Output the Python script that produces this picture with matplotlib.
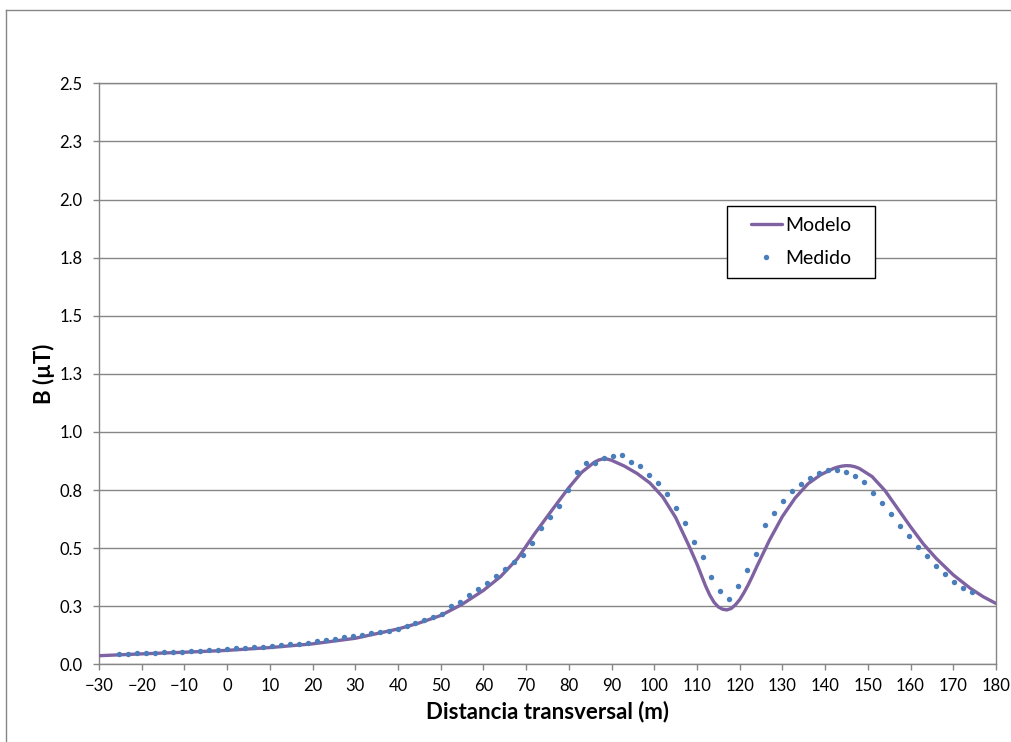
import numpy as np
import matplotlib
matplotlib.use("Agg")
from matplotlib import pyplot as plt
from matplotlib.lines import Line2D
from matplotlib.patches import Rectangle

# valores medidos (puntos)
x_medido = [-25.2, -23.1, -21.0, -18.9, -16.8, -14.7, -12.6, -10.5, -8.4, -6.3,
            -4.2, -2.1, 0.0, 2.1, 4.2, 6.3, 8.4, 10.5, 12.6, 14.7,
            16.8, 18.9, 21.0, 23.1, 25.2, 27.3, 29.4, 31.5, 33.6, 35.7,
            37.8, 39.9, 42.0, 44.1, 46.2, 48.3, 50.4, 52.5, 54.6, 56.7,
            58.8, 60.9, 63.0, 65.1, 67.2, 69.3, 71.4, 73.5, 75.6, 77.7,
            79.8, 81.9, 84.0, 86.1, 88.2, 90.3, 92.4, 94.5, 96.6, 98.7,
            100.8, 102.9, 105.0, 107.1, 109.2, 111.3, 113.4, 115.5, 117.6, 119.7,
            121.8, 123.9, 126.0, 128.1, 130.2, 132.3, 134.4, 136.5, 138.6, 140.7,
            142.8, 144.9, 147.0, 149.1, 151.2, 153.3, 155.4, 157.5, 159.6, 161.7,
            163.8, 165.9, 168.0, 170.1, 172.2, 174.3]
y_medido = [0.044, 0.046, 0.047, 0.049, 0.050, 0.052, 0.053, 0.054, 0.057, 0.059,
            0.060, 0.062, 0.066, 0.069, 0.072, 0.073, 0.076, 0.079, 0.083, 0.086,
            0.089, 0.093, 0.099, 0.103, 0.108, 0.116, 0.122, 0.128, 0.135, 0.139,
            0.145, 0.152, 0.165, 0.176, 0.189, 0.202, 0.215, 0.251, 0.269, 0.297,
            0.323, 0.349, 0.379, 0.410, 0.440, 0.470, 0.522, 0.588, 0.634, 0.680,
            0.751, 0.827, 0.865, 0.866, 0.886, 0.895, 0.902, 0.870, 0.853, 0.816,
            0.779, 0.734, 0.671, 0.607, 0.525, 0.463, 0.376, 0.314, 0.282, 0.336,
            0.406, 0.473, 0.601, 0.651, 0.704, 0.744, 0.776, 0.803, 0.823, 0.835,
            0.836, 0.826, 0.809, 0.783, 0.737, 0.694, 0.645, 0.597, 0.552, 0.503,
            0.465, 0.423, 0.387, 0.354, 0.330, 0.312]

# curva del modelo
x_modelo = [-30, -20, -10, 0, 10, 20, 30, 40, 45, 50,
            55, 60, 64, 68, 72, 76, 80, 83, 86, 87,
            88, 89, 90, 93, 96, 99, 102, 105, 108, 110,
            111, 112, 113, 114, 115, 116, 117, 118, 119, 120,
            121, 122, 123, 124, 127, 130, 133, 136, 139, 142,
            143, 144, 145, 146, 147, 148, 151, 154, 157, 160,
            163, 166, 170, 174, 177, 180]
y_modelo = [0.037, 0.045, 0.052, 0.060, 0.072, 0.088, 0.112, 0.152, 0.178, 0.210,
            0.258, 0.318, 0.377, 0.455, 0.562, 0.662, 0.760, 0.826, 0.870, 0.879,
            0.884, 0.883, 0.878, 0.853, 0.821, 0.780, 0.720, 0.632, 0.515, 0.432,
            0.385, 0.338, 0.298, 0.267, 0.247, 0.237, 0.234, 0.240, 0.256, 0.278,
            0.308, 0.342, 0.380, 0.420, 0.535, 0.636, 0.716, 0.777, 0.816, 0.843,
            0.849, 0.853, 0.855, 0.854, 0.850, 0.843, 0.808, 0.748, 0.670, 0.592,
            0.518, 0.456, 0.385, 0.327, 0.291, 0.262]

x_ticks = list(range(-30, 181, 10))
y_ticks = [0.0, 0.25, 0.5, 0.75, 1.0, 1.25, 1.5, 1.75, 2.0, 2.25, 2.5]
y_labels = ['0.0', '0.3', '0.5', '0.8', '1.0', '1.3', '1.5', '1.8', '2.0', '2.3', '2.5']

plt.rcParams['font.family'] = ['Lato', 'DejaVu Sans']

fig = plt.figure(figsize=(10.11, 7.42), dpi=100)
ax = fig.add_axes([0.0979, 0.1047, 0.8872, 0.7830])

gris = '#868686'
ax.plot(x_modelo, y_modelo, color='#7E62A1', lw=2.4, label='Modelo', zorder=3,
        solid_joinstyle='round', solid_capstyle='round')
ax.plot(x_medido, y_medido, ls='none', marker='o', ms=3.9, color='#4A7EBB',
        markeredgewidth=0, label='Medido', zorder=4)

ax.set_xlim(-30, 180)
ax.set_ylim(0, 2.5)
ax.set_xticks(x_ticks)
ax.set_yticks(y_ticks)
ax.set_yticklabels(y_labels)
ax.grid(axis='y', color=gris, lw=1)
ax.set_axisbelow(True)
for s in ax.spines.values():
    s.set_color(gris)
    s.set_linewidth(1)
ax.tick_params(axis='both', direction='out', length=4, width=1, color=gris,
               labelsize=12, labelcolor='black')
ax.tick_params(axis='y', pad=8)
ax.tick_params(axis='x', pad=6)

ax.set_xlabel('Distancia transversal (m)', fontsize=16, fontweight='bold', labelpad=5)
ax.set_ylabel('B (µT)', fontsize=16, fontweight='bold', labelpad=3)

# leyenda con recuadro fijo
ax.add_patch(Rectangle((727 / 1011, 1 - 278 / 742), 148 / 1011, 72 / 742,
                       transform=fig.transFigure, facecolor='white',
                       edgecolor='black', lw=1, zorder=5, clip_on=False))
leg = ax.legend(loc='center', bbox_to_anchor=(801 / 1011, 1 - 242 / 742),
                bbox_transform=fig.transFigure, fontsize=14, frameon=False,
                handlelength=1.6, handletextpad=0.15, labelspacing=0.8,
                borderpad=0, borderaxespad=0)
leg.set_zorder(6)

# borde exterior del grafico
fig.add_artist(Line2D([5.5 / 1011, 5.5 / 1011], [0, 1 - 9.5 / 742], color=gris, lw=1))
fig.add_artist(Line2D([5.5 / 1011, 1], [1 - 9.5 / 742, 1 - 9.5 / 742], color=gris, lw=1))

fig.savefig('out.png', dpi=100)
